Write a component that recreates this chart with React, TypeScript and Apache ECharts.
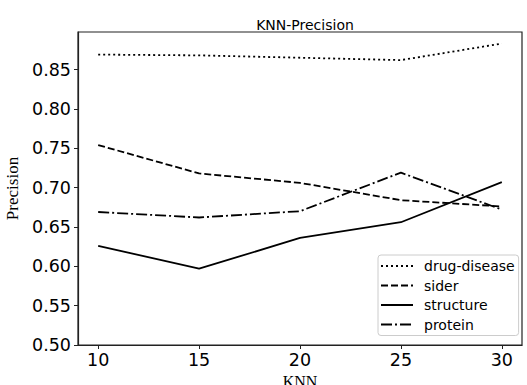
import React, { useEffect, useRef } from "react";
import * as echarts from "echarts";

const knn = [10, 15, 20, 25, 30];
const drugDisease = [0.869, 0.868, 0.865, 0.862, 0.883];
const sider = [0.754, 0.718, 0.706, 0.684, 0.676];
const structure = [0.626, 0.597, 0.636, 0.656, 0.707];
const protein = [0.669, 0.662, 0.670, 0.719, 0.672];
const yTicks = [0.5, 0.55, 0.6, 0.65, 0.7, 0.75, 0.8, 0.85];
const xTicks = [10, 15, 20, 25, 30];

const seriesDefs = [
  { name: "drug-disease", data: drugDisease, type: [2, 3] as number[] | string },
  { name: "sider", data: sider, type: [7, 3] as number[] | string },
  { name: "structure", data: structure, type: "solid" as number[] | string },
  { name: "protein", data: protein, type: [11, 3, 2, 3] as number[] | string },
];

export default function App() {
  const ref = useRef<HTMLDivElement>(null);
  useEffect(() => {
    if (!ref.current) return;
    const chart = echarts.init(ref.current, null, { renderer: "svg" });
    chart.setOption({
      animation: false,
      backgroundColor: "#fff",
      title: {
        text: "KNN-Precision",
        left: 300,
        textAlign: "center",
        top: 13,
        textStyle: { fontFamily: "DejaVu Sans", fontSize: 14, fontWeight: "normal", color: "#000" },
      },
      grid: {
        left: 78,
        right: 5,
        top: 32,
        bottom: 40,
        show: true,
        borderColor: "#222",
        borderWidth: 1.2,
        backgroundColor: "transparent",
        containLabel: false,
        outerBoundsMode: "none",
      },
      legend: {
        orient: "vertical",
        left: 378,
        top: 255,
        padding: [4, 4, 4, 2],
        itemGap: 5.5,
        itemWidth: 32,
        itemHeight: 14,
        backgroundColor: "#fff",
        borderColor: "#ccc",
        borderWidth: 1,
        borderRadius: 3,
        itemStyle: { opacity: 0, borderWidth: 0 },
        textStyle: { fontFamily: "DejaVu Sans", fontSize: 14, color: "#000", padding: [0, 0, 0, 6] },
        data: seriesDefs.map((s) => s.name),
      },
      xAxis: {
        type: "value",
        min: 9,
        max: 31,
        name: "KNN",
        nameLocation: "middle",
        nameGap: 22,
        nameTextStyle: { fontFamily: "Liberation Serif", fontSize: 16, color: "#000" },
        axisLine: { show: true, lineStyle: { color: "#222", width: 1.2 } },
        axisTick: { show: true, length: 4, inside: false, lineStyle: { color: "#222" }, customValues: xTicks },
        axisLabel: { customValues: xTicks, fontFamily: "DejaVu Sans", fontSize: 17.5, color: "#000", margin: 6 },
        splitLine: { show: false },
      },
      yAxis: {
        type: "value",
        min: 0.5,
        max: 0.8977,
        name: "Precision",
        nameLocation: "middle",
        nameRotate: 90,
        nameGap: 49,
        nameTextStyle: { fontFamily: "Liberation Serif", fontSize: 17, color: "#000" },
        axisLine: { show: true, lineStyle: { color: "#222", width: 1.2 } },
        axisTick: { show: true, length: 4, inside: false, lineStyle: { color: "#222" }, customValues: yTicks },
        axisLabel: {
          customValues: yTicks,
          fontFamily: "DejaVu Sans",
          fontSize: 17.5,
          color: "#000",
          margin: 7,
          formatter: (v: number) => v.toFixed(2),
        },
        splitLine: { show: false },
      },
      series: seriesDefs.map((s) => ({
        name: s.name,
        type: "line",
        data: knn.map((k, i) => [k, s.data[i]]),
        symbol: "none",
        color: "#000",
        lineStyle: { color: "#000", width: 1.8, type: s.type },
      })),
    });
    return () => chart.dispose();
  }, []);
  return <div ref={ref} style={{ width: 527, height: 385, position: "absolute", left: 0, top: 0 }} />;
}
